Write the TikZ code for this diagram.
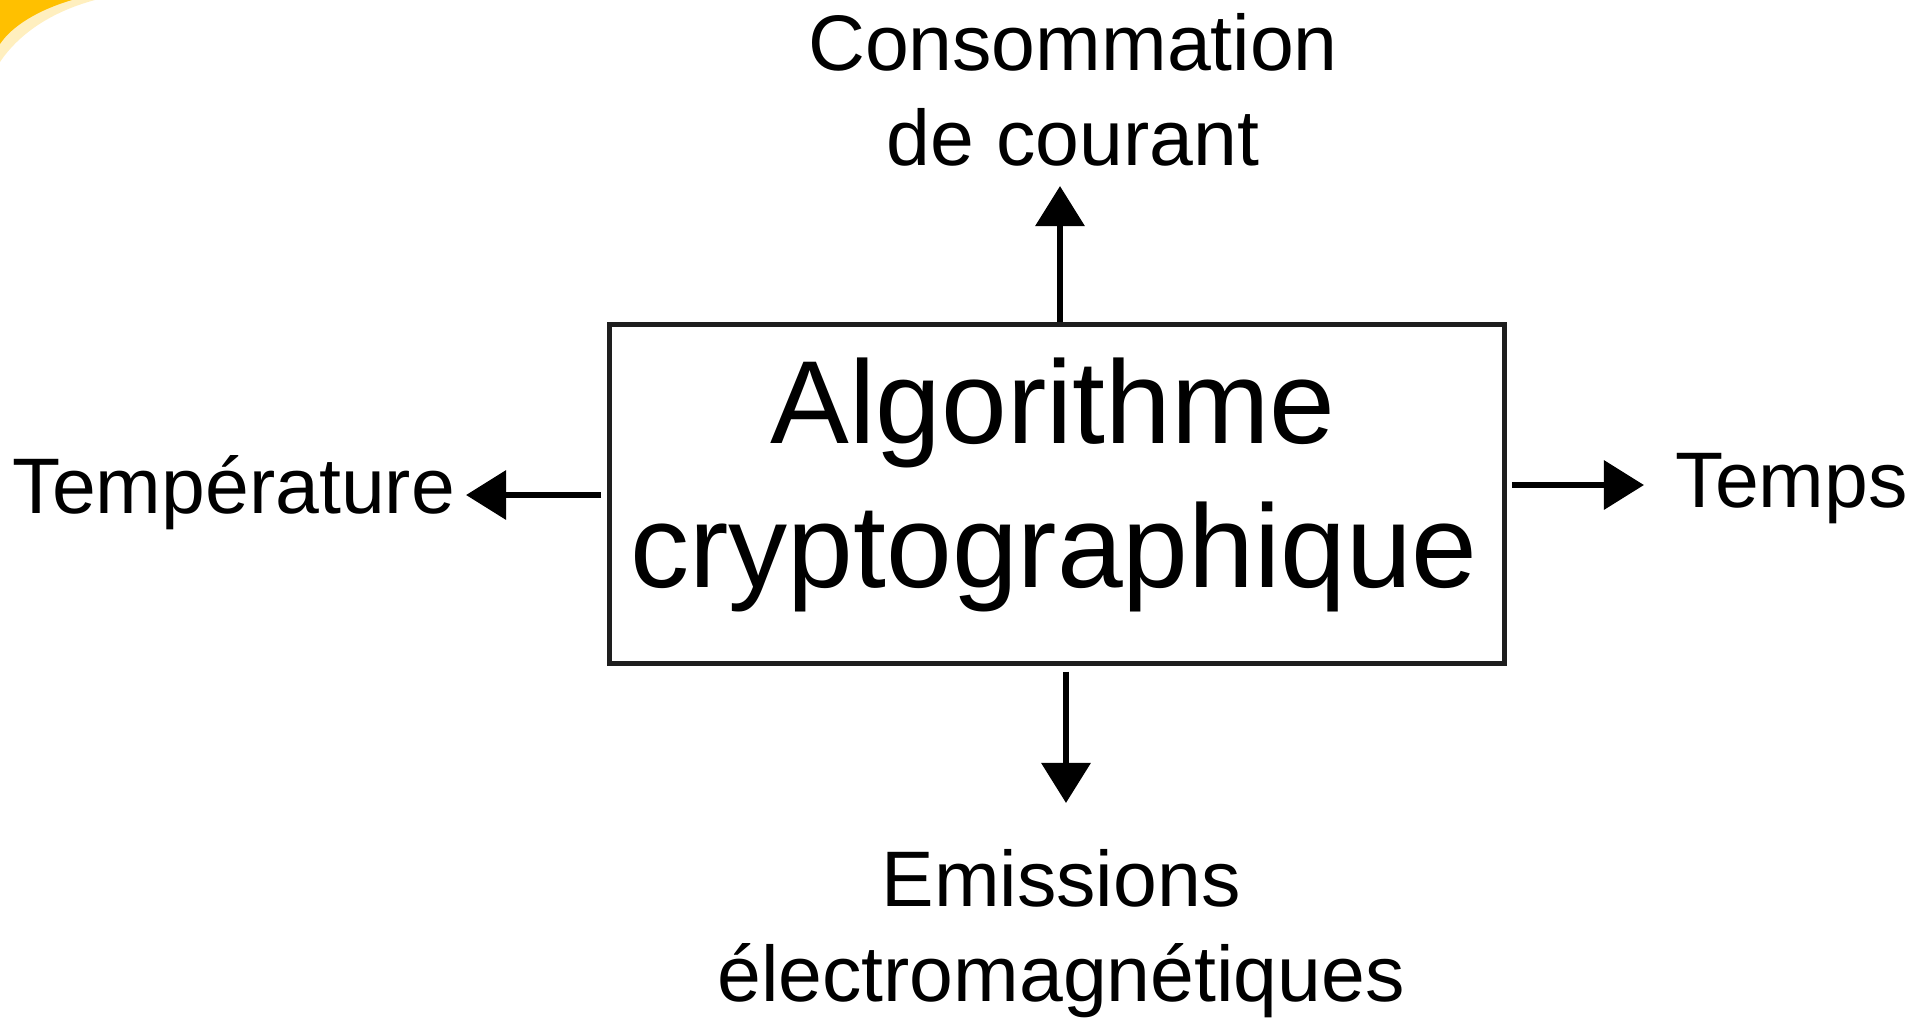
\documentclass[tikz,border=0pt]{standalone}
\usepackage{fontspec}
\setmainfont{Liberation Sans}
\usetikzlibrary{arrows.meta}
\definecolor{sunyellow}{RGB}{255,192,0}
\definecolor{framegray}{RGB}{30,30,30}
\tikzset{
  bigtext/.style={anchor=base, inner sep=0pt, font=\fontsize{33.6}{40}\selectfont},
  labeltext/.style={anchor=base, inner sep=0pt, font=\fontsize{22.4}{27}\selectfont},
  leak/.style={line width=0.065cm, -{Triangle[length=0.40cm, width=0.48cm]}},
  algobox/.style={draw=framegray, line width=0.05cm, fill=white, minimum width=8.94cm, minimum height=3.38cm, inner sep=0pt}
}
\begin{document}
\begin{tikzpicture}[x=0.01cm, y=-0.01cm]
  \useasboundingbox (0,0) rectangle (1917,1020);
  % corner decoration
  \fill[sunyellow!25] (0,0) -- (95,0) .. controls (50,12) and (18,35) .. (0,62) -- cycle;
  \fill[sunyellow] (0,0) -- (72,0) .. controls (38,10) and (12,26) .. (0,44) -- cycle;

  % central block
  \node[algobox] (box) at (1057,494) {};
  \node[bigtext] (alg1) at (1053,443) {Algorithme};
  \node[bigtext] (alg2) at (1054,587) {cryptographique};

  % leakage labels
  \node[labeltext] (cons1) at (1073,70) {Consommation};
  \node[labeltext] (cons2) at (1073,165) {de courant};
  \node[labeltext] (emi1) at (1061,906) {Emissions};
  \node[labeltext] (emi2) at (1061,1001) {électromagnétiques};
  \node[labeltext, anchor=base west] (temp) at (12,513) {Température};
  \node[labeltext, anchor=base west] (time) at (1675,507) {Temps};

  % arrow tips
  \coordinate (tipTop) at (1060,186);
  \coordinate (tipBot) at (1066,803);
  \coordinate (tipLeft) at (466,495);
  \coordinate (tipRight) at (1644,485);

  \draw[leak] (box.north -| tipTop) -- (tipTop);
  \draw[leak] ([yshift=-0.06cm]box.south -| tipBot) -- (tipBot);
  \draw[leak] ([xshift=-0.06cm]box.west |- tipLeft) -- (tipLeft);
  \draw[leak] ([xshift=0.05cm]box.east |- tipRight) -- (tipRight);
\end{tikzpicture}
\end{document}
